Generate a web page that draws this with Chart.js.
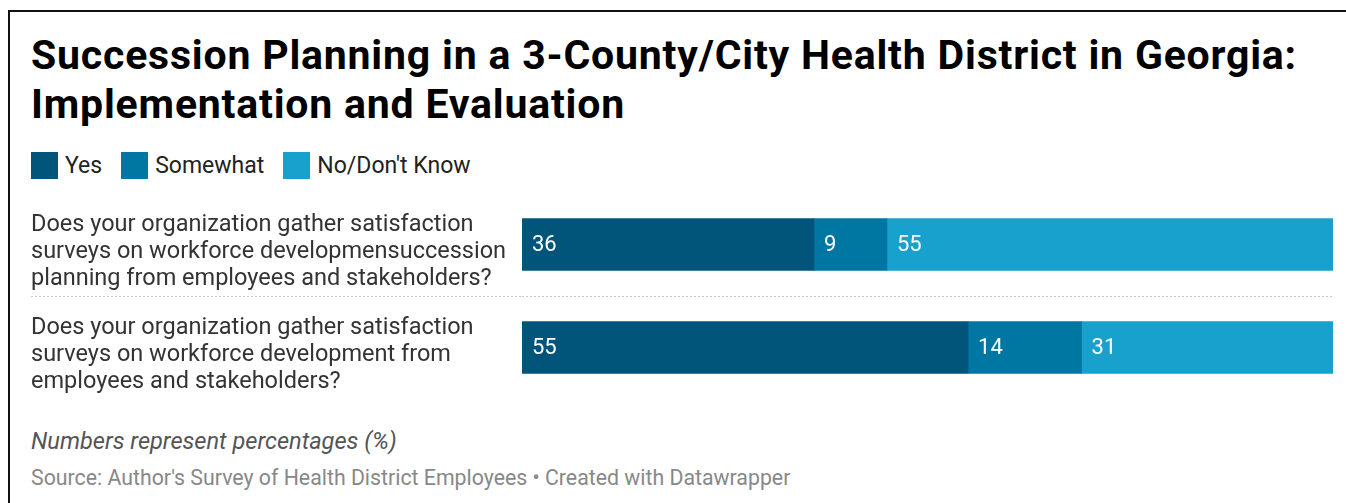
<!DOCTYPE html>
<html>
<head>
<meta charset="utf-8">
<title>Succession Planning</title>
<script src="https://cdn.jsdelivr.net/npm/chart.js@4.4.1/dist/chart.umd.min.js"></script>
<style>
  html, body { margin: 0; padding: 0; background: #fff; overflow: hidden; }
  body { width: 1346px; height: 503px; position: relative; font-family: Roboto, sans-serif; }
  .frame { position: absolute; left: 8px; top: 10px; width: 1400px; height: 600px;
           border-left: 2px solid #111; border-top: 2px solid #111; }
  h1 { position: absolute; left: 31px; top: 31px; margin: 0; font-size: 41px; line-height: 49px;
       font-weight: 700; color: #000; letter-spacing: 0.8px; white-space: nowrap; }
  .legend { position: absolute; left: 31px; top: 152px; display: flex; height: 27px; }
  .legend .item { display: flex; align-items: center; margin-right: 19px; font-size: 23px; color: #222; }
  .legend .swatch { width: 27px; height: 27px; margin-right: 7px; }
  #chart { position: absolute; left: 0; top: 183px; }
  .note { position: absolute; left: 31px; top: 427px; font-size: 23.6px; line-height: 28px;
          font-style: italic; color: #555; }
  .source { position: absolute; left: 31px; top: 465px; font-size: 21.3px; line-height: 26px; color: #888; }
</style>
</head>
<body>
<div class="frame"></div>
<h1>Succession Planning in a 3-County/City Health District in Georgia:<br>Implementation and Evaluation</h1>
<div class="legend" id="legend"></div>
<canvas id="chart" width="1346" height="226"></canvas>
<div class="note">Numbers represent percentages (%)</div>
<div class="source">Source: Author's Survey of Health District Employees • Created with Datawrapper</div>

<script>
// questions, one line per array entry
const categories = [
  ['Does your organization gather satisfaction',
   'surveys on workforce developmensuccession',
   'planning from employees and stakeholders?'],
  ['Does your organization gather satisfaction',
   'surveys on workforce development from',
   'employees and stakeholders?']
];

const seriesNames = ['Yes', 'Somewhat', "No/Don't Know"];
const yesValues = [36, 55];
const somewhatValues = [9, 14];
const noValues = [55, 31];

const seriesColors = ['#01547a', '#0076a3', '#19a1cd'];

// legend built from the series
const legendEl = document.getElementById('legend');
seriesNames.forEach((name, i) => {
  const item = document.createElement('div');
  item.className = 'item';
  const sw = document.createElement('span');
  sw.className = 'swatch';
  sw.style.background = seriesColors[i];
  item.appendChild(sw);
  item.appendChild(document.createTextNode(name));
  legendEl.appendChild(item);
});

// value written inside the left edge of every segment
const barLabels = {
  id: 'barLabels',
  afterDatasetsDraw(chart) {
    const ctx = chart.ctx;
    ctx.save();
    ctx.font = '22px Roboto';
    ctx.fillStyle = '#fff';
    ctx.textAlign = 'left';
    ctx.textBaseline = 'middle';
    chart.data.datasets.forEach((ds, di) => {
      chart.getDatasetMeta(di).data.forEach((bar, i) => {
        const left = Math.min(bar.x, bar.base);
        ctx.fillText(String(ds.data[i]), left + 10, bar.y + 1);
      });
    });
    ctx.restore();
  }
};

function draw() {
  Chart.defaults.font.family = 'Roboto';

  new Chart(document.getElementById('chart'), {
    type: 'bar',
    data: {
      labels: categories,
      datasets: [
        { label: seriesNames[0], data: yesValues, backgroundColor: seriesColors[0] },
        { label: seriesNames[1], data: somewhatValues, backgroundColor: seriesColors[1] },
        { label: seriesNames[2], data: noValues, backgroundColor: seriesColors[2] }
      ]
    },
    options: {
      indexAxis: 'y',
      responsive: false,
      animation: false,
      barThickness: 52,
      layout: { padding: { left: 31, right: 13, top: 10, bottom: 10 } },
      plugins: {
        legend: { display: false },
        tooltip: { enabled: false }
      },
      scales: {
        x: {
          stacked: true,
          min: 0,
          max: 100,
          display: false
        },
        y: {
          stacked: true,
          afterFit(scale) {
            scale.width = 491;
            // labels may hang over the plot edges, keep the plot full height
            scale.paddingTop = 0;
            scale.paddingBottom = 0;
          },
          border: { display: false, dash: [2, 2] },
          grid: {
            offset: true,
            color: c => c.index === 1 ? '#c8c8c8' : 'rgba(0,0,0,0)',
            tickColor: c => c.index === 1 ? '#c8c8c8' : 'rgba(0,0,0,0)',
            tickLength: 491,
            tickBorderDash: [2, 2],
            lineWidth: 1
          },
          ticks: {
            crossAlign: 'far',
            labelOffset: 8,
            color: '#333',
            font: { size: 23.5, lineHeight: 1.15 }
          }
        }
      }
    },
    plugins: [barLabels]
  });
}

if (document.fonts && document.fonts.load) {
  Promise.all([
    document.fonts.load('24px Roboto'),
    document.fonts.load('bold 41px Roboto')
  ]).then(draw, draw);
} else {
  draw();
}
</script>
</body>
</html>
